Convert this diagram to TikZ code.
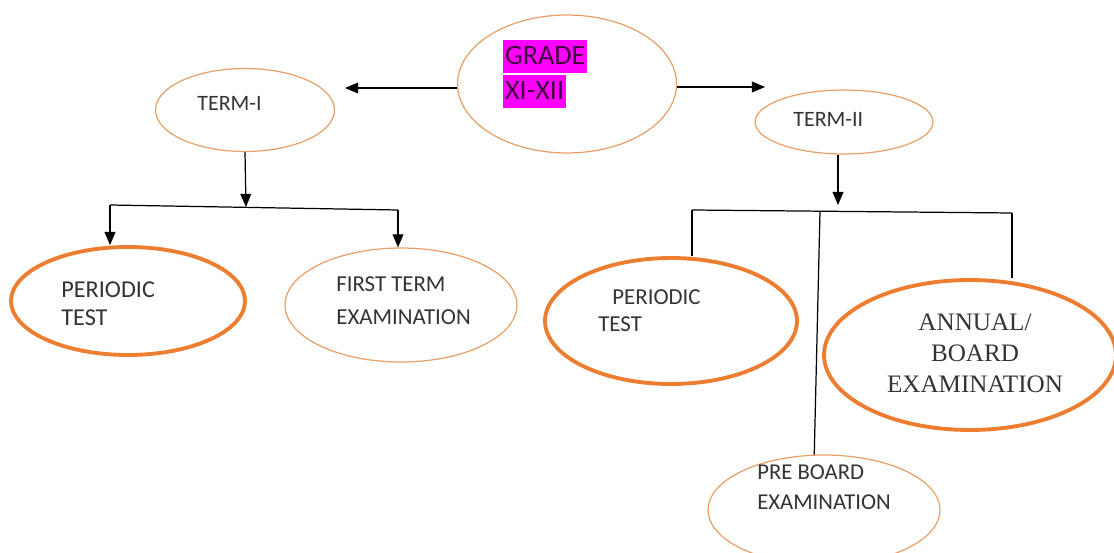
\documentclass[tikz,border=0pt]{standalone}
\usepackage{fontspec}
\setmainfont{Carlito}
\newfontfamily\timesfont{Liberation Serif}
\usepackage{tikz}
\usepackage{xcolor}
\usetikzlibrary{positioning,shapes,arrows}
\definecolor{orng}{RGB}{237,125,49}
\definecolor{lightorng}{RGB}{232,160,105}
\definecolor{hilite}{RGB}{255,0,255}
\begin{document}
\begin{tikzpicture}[x=0.02cm,y=-0.02cm]
\tikzstyle{every node}+=[inner sep=0pt]
\tikzstyle{oval}=[draw=lightorng,ellipse,line width=0.7pt]
\tikzstyle{boldoval}=[draw=orng,ellipse,line width=2.2pt]
\tikzstyle{txt}=[anchor=west,align=left,text=black!80]
\tikzstyle{hl}=[anchor=north west,fill=hilite,inner xsep=1pt,text height=14pt,text depth=4.5pt,font=\fontsize{16}{18}\selectfont,text=black!75!hilite]
\tikzstyle{con}=[draw=black,line width=0.7pt]
\tikzstyle{arr}=[con,-triangle 45]
\useasboundingbox (0,0) rectangle (1114,553);
\node [oval,minimum width=4.38cm,minimum height=2.76cm] (grade) at (567,84) {};
\node [oval,minimum width=3.58cm,minimum height=1.66cm] (termI) at (245,110) {};
\node [oval,minimum width=3.56cm,minimum height=1.28cm] (termII) at (844,122) {};
\node [boldoval,minimum width=4.68cm,minimum height=2.16cm] (ptA) at (128,301) {};
\node [oval,minimum width=4.64cm,minimum height=2.28cm] (fte) at (401,305) {};
\node [boldoval,minimum width=5.04cm,minimum height=2.52cm] (ptB) at (671,321) {};
\node [boldoval,minimum width=5.84cm,minimum height=3.0cm] (abe) at (970,355) {};
\node [oval,minimum width=4.64cm,minimum height=2.2cm] (pbe) at (824,510) {};
\node [hl] (gradeA) at (503,40) {GRADE};
\node [hl] (gradeB) at (503,75) {XI-XII};
\node [txt,font=\fontsize{12.5}{14}\selectfont] (tTermI) at (197,103) {TERM-I};
\node [txt,font=\fontsize{12.5}{14}\selectfont] (tTermII) at (793,119) {TERM-II};
\node [txt,font=\fontsize{13.8}{16}\selectfont] (tPtA) at (61,304) {PERIODIC\\TEST};
\node [txt,font=\fontsize{13}{18.7}\selectfont] (tFte) at (336,301) {FIRST TERM\\EXAMINATION};
\node [txt,font=\fontsize{13}{15.5}\selectfont] (tPtB) at (598,311) {\hspace*{8pt}PERIODIC\\TEST};
\node [align=center,font=\timesfont\fontsize{14.3}{17.6}\selectfont,text=black!80] (tAbe) at (975,353) {ANNUAL/\\BOARD\\EXAMINATION};
\node [txt,font=\fontsize{12.9}{17}\selectfont] (tPbe) at (757,487) {PRE BOARD\\EXAMINATION};
\coordinate (ga) at (345,88);
\coordinate (gb) at (765,87);
\coordinate (j1) at (246,207);
\coordinate (l1) at (110,205);
\coordinate (r1) at (398,210);
\coordinate (j2) at (838,205);
\coordinate (l2) at (692,210);
\coordinate (m2) at (820,211);
\coordinate (r2) at (1012,213);
\draw [arr] (grade.west |- ga) -- (ga);
\draw [arr] (grade.east |- gb) -- (gb);
\draw [arr] (termI.south) -- (j1);
\draw [con] (l1) -- (r1);
\draw [arr] (l1) -- (l1 |- ptA.north);
\draw [arr] (r1) -- (r1 |- fte.north);
\draw [arr] (j2 |- termII.south) -- (j2);
\draw [con] (l2) -- (r2);
\draw [con] (l2) -- (l2 |- ptB.north);
\draw [con] (r2) -- (r2 |- abe.north);
\draw [con] (m2) -- (pbe.100);
\end{tikzpicture}
\end{document}
